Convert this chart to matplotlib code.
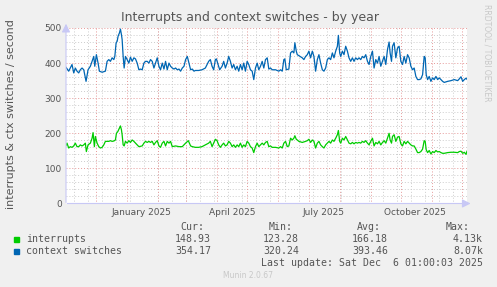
import datetime as dt
import matplotlib
matplotlib.use("Agg")
import matplotlib.pyplot as plt
import matplotlib.dates as mdates

# day offsets from start of the graph (Nov 1 2024) and values
ctx_days = [0, 2.7, 6, 7.7, 9.3, 11, 12.7, 14.3, 16, 17.7, 20, 22, 24.3, 26, 27.7, 28.7, 30.3, 32, 33.3, 36,
            39.3, 41, 42.7, 44.3, 46, 47.7, 48.7, 50, 51, 52, 53.3, 54.3, 55.3, 56, 57, 58, 59.3, 61, 62.7, 64.3,
            66, 67.7, 69.3, 71, 72.7, 74.3, 76, 77.7, 79.3, 81, 82.7, 84.3, 86, 87.7, 89.3, 91, 92.7, 94.3, 96, 97.7,
            99.3, 101, 102.7, 104.3, 106, 107.7, 109.3, 111, 112.7, 114.3, 116, 117.7, 119.3, 121, 122.7, 124.3, 126, 127.7,
            129, 132.3, 135.7, 139, 142.3, 144, 145.7, 147.3, 149, 150, 151.7, 153.3, 155.7, 157.3, 159, 160.7, 162.3, 164,
            165.7, 167.3, 169, 170.7, 172.3, 174, 175.7, 177.3, 179, 180.7, 182.3, 184, 185.7, 187.3, 189, 190.7, 192.3, 194,
            195.7, 197.3, 199, 200.7, 202.3, 204, 205.7, 209, 212.3, 214, 215.7, 217.3, 218.3, 219.7, 222.3, 224, 225.7, 227.3,
            228.3, 229.7, 230.7, 232.3, 235.7, 237.3, 239, 240.7, 242.3, 244, 245.7, 247.3, 249, 250.7, 252.3, 254, 255.7, 257.3,
            259, 260.7, 262.3, 264, 265.7, 267.3, 269, 270.7, 271.7, 273, 274, 275.7, 277.3, 279, 280.7, 282.3, 284, 285.7,
            287.3, 289, 290.7, 292.3, 294, 295.7, 297.3, 299, 300.7, 302.3, 304, 305.7, 307.3, 309, 310.7, 312.3, 314, 315.7,
            317.3, 319, 320.7, 322.3, 323.3, 324.7, 325.7, 327.3, 329, 330.7, 332.3, 334, 335.7, 337.3, 339, 340.7, 342.3, 344,
            345.7, 347.3, 349, 350.7, 352.3, 354, 355.7, 357.3, 358.3, 359.3, 360.7, 362.3, 364, 365.7, 367.3, 369, 370.7, 372.3,
            374, 375.7, 377.3, 380.7, 384, 387.3, 390.7, 392.3, 394, 395.7, 397.3, 399, 400]
ctx_vals = [388, 377, 396, 372, 386, 377, 372, 381, 386, 381, 348, 381, 391, 405, 419, 391, 424, 400, 377, 374,
            377, 405, 410, 405, 415, 410, 419, 458, 462, 477, 486, 497, 481, 467, 419, 386, 419, 410, 400, 417,
            405, 415, 412, 400, 381, 383, 381, 400, 405, 405, 400, 410, 405, 386, 400, 415, 391, 381, 400, 383,
            405, 381, 400, 391, 386, 383, 386, 381, 383, 377, 386, 391, 410, 419, 400, 381, 383, 377,
            379, 379, 381, 386, 405, 410, 391, 381, 410, 412, 396, 381, 391, 405, 386, 400, 419, 405,
            386, 396, 381, 391, 377, 396, 381, 400, 377, 405, 396, 381, 377, 353, 386, 400, 381, 391,
            405, 386, 410, 415, 383, 386, 381, 381, 377, 381, 377, 410, 412, 381, 383, 429, 434, 429,
            458, 434, 424, 421, 415, 410, 419, 424, 434, 415, 434, 419, 377, 410, 424, 400, 381, 377,
            386, 410, 415, 410, 429, 415, 434, 448, 479, 429, 419, 434, 424, 448, 434, 415, 405, 415,
            405, 415, 410, 415, 410, 419, 415, 424, 405, 396, 419, 434, 386, 410, 400, 419, 391, 405,
            419, 396, 439, 460, 429, 405, 448, 458, 415, 443, 448, 405, 396, 419, 400, 424, 415, 391,
            381, 386, 362, 353, 353, 355, 367, 419, 415, 367, 353, 362, 348, 358, 353, 362, 353, 358,
            353, 348, 345, 348, 350, 353, 350, 355, 361, 348, 353, 357, 354]

irq_days = [0, 1, 2.7, 4.3, 6, 7.7, 9.3, 11, 12.7, 14.3, 16, 17.7, 19.3, 20.3, 22, 24.3, 26, 27, 28.3, 29.3,
            31, 32.7, 34.3, 36, 37.7, 39.3, 41, 42.7, 44.3, 46, 47.7, 49.3, 50.3, 51.7, 53.3, 54.3, 55.3, 56, 57, 58,
            59.3, 61, 62.7, 64.3, 66, 67.7, 69.3, 71, 72.7, 76, 77.7, 79.3, 81, 82.7, 84.3, 86, 87.7, 89.3, 91, 92.7,
            94.3, 96, 97.7, 99.3, 101, 102.7, 104.3, 106, 109.3, 112.7, 116, 119.3, 122, 124.3, 126,
            129, 132.3, 135.7, 139, 142.3, 144, 145.7, 147.3, 149, 150.7, 152.3, 154, 155.7, 157.3, 159, 160.7, 162.3, 164,
            165.7, 167.3, 169, 170.7, 172.3, 174, 175.7, 177.3, 179, 180.7, 182.3, 184, 185.7, 187.3, 189, 190.7, 192.3, 194,
            195.7, 197.3, 199, 200.7, 202.3, 204, 205.7, 209, 212.3, 214, 215.7, 217.3, 219, 220.7, 222.3, 224, 225.7, 227.3,
            228.3, 229.7, 230.7, 232.3, 235.7, 239, 240.7, 242.3, 244, 245.7, 247.3, 249, 250.7, 252.3, 254, 255.7, 257.3,
            259, 260.7, 262.3, 264, 265.7, 267.3, 269, 270.7, 271.7, 273, 274, 275.7, 277.3, 279, 280.7, 282.3, 284, 285.7,
            287.3, 289, 290.7, 292.3, 294, 295.7, 297.3, 299, 300.7, 302.3, 304, 305.7, 307.3, 309, 310.7, 312.3, 314, 315.7,
            317.3, 319, 320.7, 322.3, 323.3, 324.7, 325.7, 327.3, 329, 330.7, 332.3, 334, 335.7, 337.3, 339, 340.7, 342.3, 344,
            345.7, 347.3, 349, 350.7, 352.3, 354, 355.7, 357.3, 358.3, 359.3, 360.7, 362.3, 364, 365.7, 367.3, 369, 370.7, 372.3,
            374, 375.7, 377.3, 380.7, 384, 387.3, 390.7, 392.3, 394, 395.7, 397.3, 399, 400]
irq_vals = [165, 172, 158, 162, 160, 164, 172, 162, 162, 167, 164, 167, 172, 148, 167, 172, 186, 202, 162, 191,
            172, 162, 158, 160, 167, 177, 177, 177, 179, 177, 178, 181, 200, 205, 215, 221, 210, 196, 167, 164,
            177, 172, 179, 174, 181, 177, 172, 167, 162, 164, 172, 177, 174, 177, 174, 177, 167, 174, 179, 164,
            160, 172, 177, 164, 177, 172, 177, 162, 164, 162, 162, 172, 179, 164, 162,
            160, 160, 162, 167, 172, 177, 162, 172, 183, 179, 167, 160, 167, 172, 164, 167, 177, 172,
            162, 167, 160, 167, 162, 172, 160, 167, 162, 177, 172, 162, 158, 145, 162, 172, 162, 167,
            172, 167, 174, 177, 162, 164, 160, 160, 158, 162, 158, 172, 177, 162, 164, 186, 181, 186,
            193, 183, 181, 177, 174, 177, 179, 183, 174, 181, 177, 158, 172, 177, 167, 162, 158,
            167, 172, 177, 172, 181, 177, 186, 196, 208, 177, 172, 186, 181, 191, 181, 172, 170, 174,
            170, 174, 172, 174, 172, 177, 174, 179, 172, 167, 177, 186, 164, 174, 170, 177, 167, 174,
            179, 172, 186, 200, 181, 172, 191, 196, 177, 189, 191, 170, 164, 177, 170, 177, 172, 167,
            164, 164, 155, 145, 145, 148, 155, 179, 177, 153, 145, 151, 141, 148, 145, 151, 147, 148,
            145, 143, 143, 145, 146, 146, 145, 148, 149, 143, 146, 140, 149]

y_ticks = [0, 100, 200, 300, 400, 500]
x_labels = ["January 2025", "April 2025", "July 2025", "October 2025"]

legend_names = ["interrupts", "context switches"]
legend_cur = ["148.93", "354.17"]
legend_min = ["123.28", "320.24"]
legend_avg = ["166.18", "393.46"]
legend_max = ["4.13k", "8.07k"]

GREEN = "#00CC00"
BLUE = "#0066B3"
W, H = 497, 287

start = dt.datetime(2024, 11, 1, 1, 0, 3)
end = dt.datetime(2025, 12, 6, 1, 0, 3)
t0 = mdates.date2num(start)


def fp(x, y):
    return x / W, 1 - y / H


fig = plt.figure(figsize=(W / 100, H / 100), dpi=100, facecolor="#F0F0F0")
ax = fig.add_axes([66 / W, 1 - 203.5 / H, 401 / W, 175.5 / H])
ax.set_facecolor("white")

# grid: minor every 20, major every 100; months major, fortnight minor
for v in range(0, 501, 20):
    if v % 100:
        ax.axhline(v, color="#CCCCCC", lw=0.7, ls=(0, (1, 2)), zorder=1)
for v in y_ticks:
    ax.axhline(v, color="#E69999", lw=0.7, ls=(0, (1, 2)), zorder=1)
d = dt.datetime(2024, 11, 9)
while d < end:
    ax.axvline(mdates.date2num(d), color="#CCCCCC", lw=0.7, ls=(0, (1, 2)), zorder=1)
    d += dt.timedelta(days=14)
for m in range(12, 25):
    md = dt.datetime(2024 + (m - 1) // 12, (m - 1) % 12 + 1, 1)
    ax.axvline(mdates.date2num(md), color="#E69999", lw=0.7, ls=(0, (1, 2)), zorder=1)

ax.plot([t0 + x for x in irq_days], irq_vals, color=GREEN, lw=0.9, zorder=3)
ax.plot([t0 + x for x in ctx_days], ctx_vals, color=BLUE, lw=0.9, zorder=3)

ax.set_xlim(t0, mdates.date2num(end))
ax.set_ylim(0, 500)
for s in ax.spines.values():
    s.set_visible(False)
ax.set_yticks(y_ticks)
ax.set_yticklabels([str(v) for v in y_ticks], fontsize=6.5, color="#555555")
label_pos = [mdates.date2num(dt.datetime(2025, mo, 15, 12)) for mo in (1, 4, 7, 10)]
ax.set_xticks(label_pos)
ax.set_xticklabels(x_labels, fontsize=6.5, color="#555555")
ax.tick_params(length=0, pad=3)

# axes with arrows
ac = "#C8C8F5"
ax.annotate("", xy=(1.016, 0), xytext=(-0.004, 0), xycoords="axes fraction",
            arrowprops=dict(arrowstyle="-|>,head_length=0.5,head_width=0.25", color=ac, lw=0.8))
ax.annotate("", xy=(0, 1.04), xytext=(0, -0.01), xycoords="axes fraction",
            arrowprops=dict(arrowstyle="-|>,head_length=0.5,head_width=0.25", color=ac, lw=0.8))

fig.text(*fp(250, 18), "Interrupts and context switches - by year", fontsize=9, color="#555555",
         ha="center", va="center")
fig.text(*fp(11, 114), "interrupts & ctx switches / second", fontsize=8, color="#555555",
         rotation=90, ha="center", va="center")
fig.text(*fp(487, 53), "RRDTOOL / TOBI OETIKER", fontsize=5.5, color="#C8C8C8",
         rotation=270, ha="center", va="center")

mono = dict(family="DejaVu Sans Mono", fontsize=7.1, color="#555555", va="center")
for x, t in [(204, "Cur:"), (293, "Min:"), (381, "Avg:"), (470, "Max:")]:
    fig.text(*fp(x, 227), t, ha="right", **mono)
rows_y = [239, 251.5]
for i, c in enumerate([GREEN, BLUE]):
    y = rows_y[i]
    fig.patches.append(plt.Rectangle(fp(14, y + 2.5), 5 / W, 5 / H, transform=fig.transFigure,
                                     color=c, figure=fig))
    fig.text(*fp(26, y), legend_names[i], ha="left", **mono)
    for x, vals in [(211, legend_cur), (299, legend_min), (388, legend_avg), (483, legend_max)]:
        fig.text(*fp(x, y), vals[i], ha="right", **mono)
fig.text(*fp(483, 263), "Last update: Sat Dec  6 01:00:03 2025", ha="right", **mono)
fig.text(*fp(248, 276), "Munin 2.0.67", fontsize=5.5, color="#C8C8C8", ha="center", va="center")

fig.savefig("out.png", dpi=100, facecolor=fig.get_facecolor())
